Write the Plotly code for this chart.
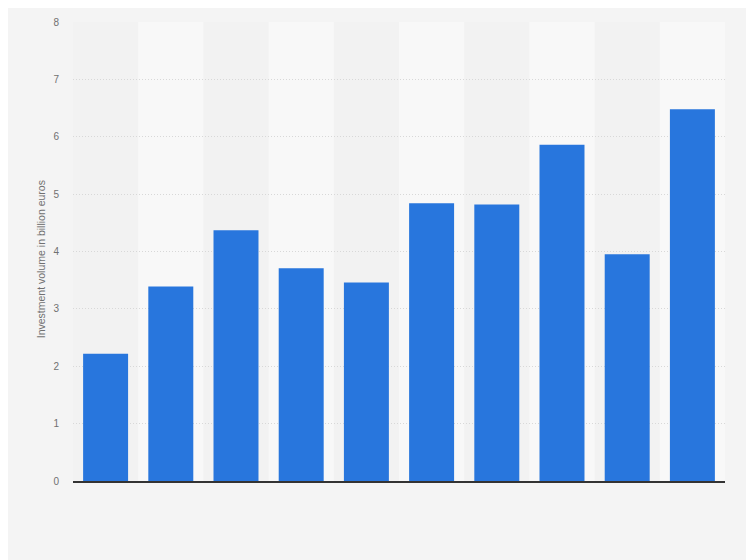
import plotly.graph_objects as go

# categories (x labels not shown in the reference)
categories = [str(i) for i in range(1, 11)]
volumes = [2.22, 3.39, 4.37, 3.71, 3.46, 4.84, 4.82, 5.86, 3.95, 6.48]
y_ticks = [0, 1, 2, 3, 4, 5, 6, 7, 8]

fig = go.Figure(go.Bar(
    x=categories,
    y=volumes,
    marker=dict(color='#2876dd', line=dict(width=0)),
    hoverinfo='y',
))

# alternating column bands
shapes = []
for i in range(len(categories)):
    if i % 2 == 1:
        shapes.append(dict(
            type='rect', xref='x', yref='paper',
            x0=i - 0.5, x1=i + 0.5, y0=0, y1=1,
            fillcolor='#f8f8f8', line=dict(width=0), layer='below',
        ))

fig.update_layout(
    width=754, height=560,
    paper_bgcolor='#f4f4f4',
    plot_bgcolor='#f2f2f2',
    margin=dict(l=65, r=37, t=8, b=87),
    bargap=0.31,
    shapes=shapes,
    showlegend=False,
    font=dict(family='Arial, Liberation Sans, sans-serif', color='#666666'),
    xaxis=dict(
        showticklabels=False, ticks='',
        showgrid=False, zeroline=False,
        showline=True, linecolor='#333333', linewidth=1.5,
        range=[-0.5, len(categories) - 0.5],
    ),
    yaxis=dict(
        range=[0, 8], tickvals=y_ticks,
        tickfont=dict(size=10, color='#707070'),
        showgrid=True, gridcolor='#d8d8d8', griddash='1px,2px', gridwidth=1,
        zeroline=False, ticks='', ticklabelstandoff=13,
    ),
    annotations=[dict(
        text='Investment volume in billion euros',
        xref='paper', yref='paper', x=-0.05, y=0.484,
        xanchor='center', yanchor='middle', textangle=-90,
        showarrow=False, font=dict(size=10.5, color='#707070'),
    )],
)

fig.write_html("out.html")
